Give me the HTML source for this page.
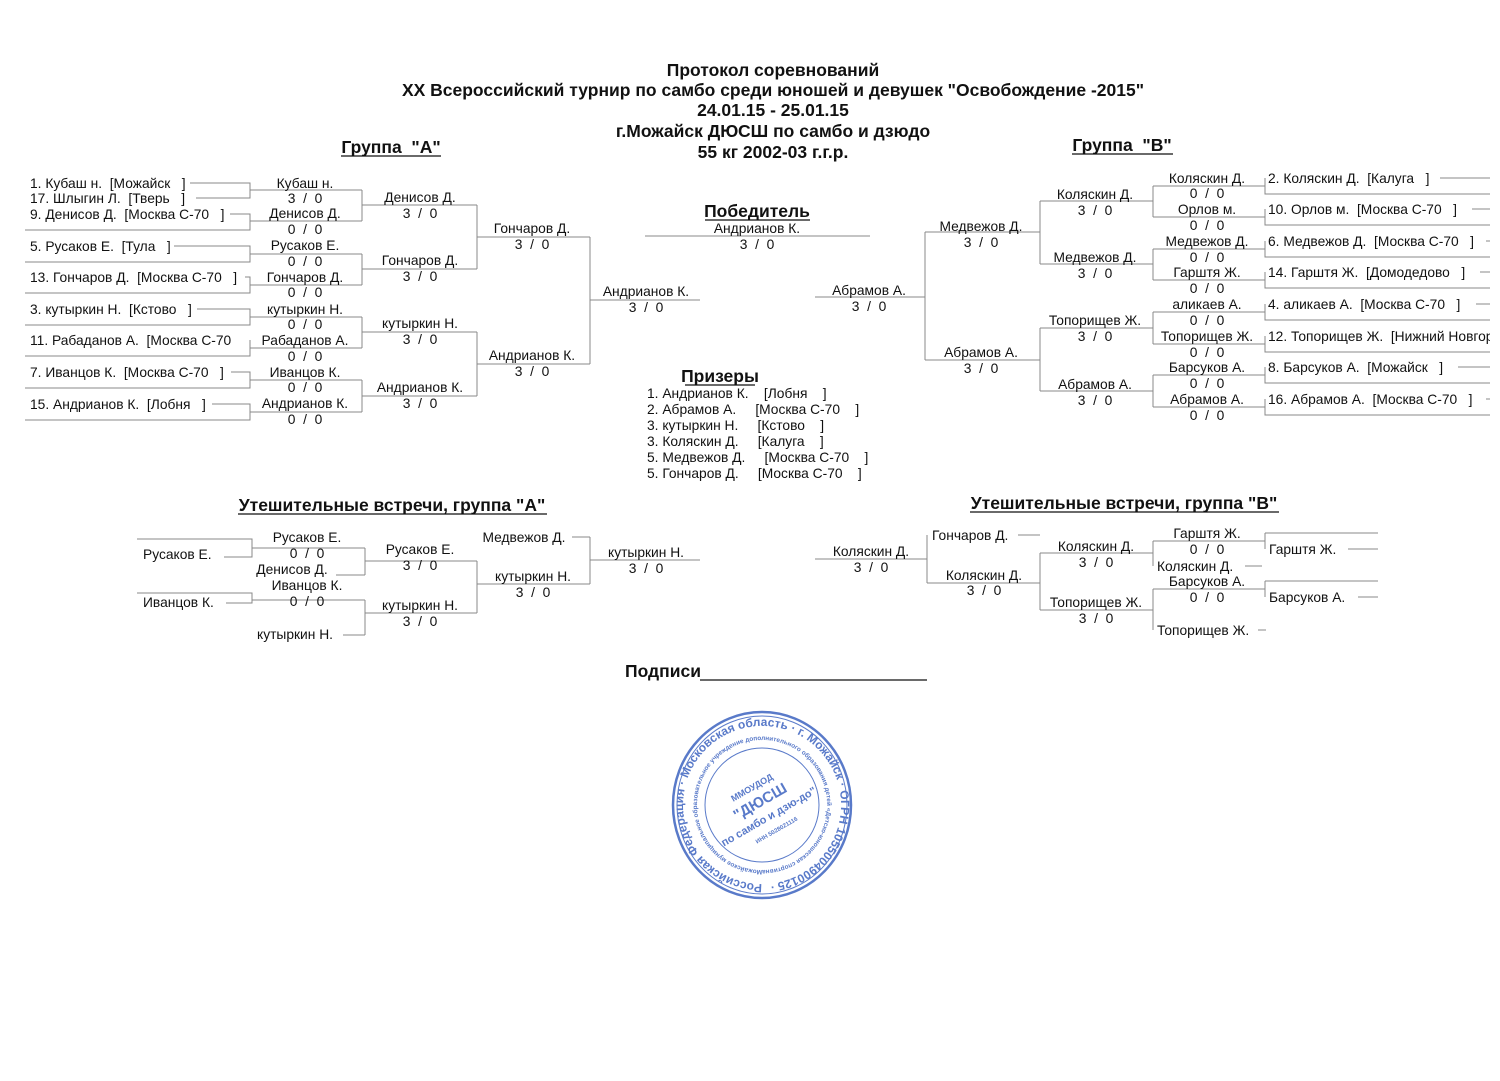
<!DOCTYPE html>
<html><head><meta charset="utf-8"><style>
html,body{margin:0;padding:0;background:#fff;}
svg{display:block;}
text{font-family:"Liberation Sans",Arial,sans-serif;font-size:13.8px;fill:#111;white-space:pre;}
.c{text-anchor:middle;}
.b{font-weight:bold;font-size:17.5px;}
text.st{fill:#3d63c0;font-family:"Liberation Sans",sans-serif;font-weight:bold;white-space:normal;}
</style></head><body>
<svg width="1500" height="1081" viewBox="0 0 1500 1081" xmlns="http://www.w3.org/2000/svg" xml:space="preserve">
<defs><clipPath id="cr"><rect x="0" y="0" width="1490" height="1081"/></clipPath>
<path id="outer" d="M762,884 A79,79 0 1,1 762.1,884"/>
<path id="inner" d="M762,870 A65,65 0 1,1 762.1,870"/>
</defs>
<g>
<text class="c b" x="773" y="76">Протокол соревнований</text>
<text class="c b" x="773" y="96">XX Всероссийский турнир по самбо среди юношей и девушек "Освобождение -2015"</text>
<text class="c b" x="773" y="116">24.01.15 - 25.01.15</text>
<text class="c b" x="773" y="137">г.Можайск ДЮСШ по самбо и дзюдо</text>
<text class="c b" x="773" y="158">55 кг 2002-03 г.г.р.</text>
<text class="c b" x="391" y="153">Группа  "А"</text>
<text class="c b" x="1122" y="151">Группа  "В"</text>
<text class="c b" x="757" y="217">Победитель</text>
<text class="c b" x="720" y="382">Призеры</text>
<text class="c b" x="392" y="511">Утешительные встречи, группа "А"</text>
<text class="c b" x="1124" y="509">Утешительные встречи, группа "В"</text>
<text class="b" x="625" y="677">Подписи</text>
</g>
<g stroke="#111" stroke-width="1.3">
<line x1="341" y1="156" x2="441" y2="156"/><line x1="1072" y1="154" x2="1173" y2="154"/>
<line x1="705" y1="220" x2="810" y2="220"/><line x1="685" y1="385" x2="755" y2="385"/>
<line x1="238" y1="514" x2="547" y2="514"/><line x1="970" y1="512" x2="1279" y2="512"/>
<line x1="700" y1="680" x2="927" y2="680"/>
</g>
<g stroke="#888" stroke-width="1" fill="none">
<polyline points="190,183 250,183 250,198 196,198"/>
<polyline points="230,214 250,214 250,230 25,230"/>
<polyline points="174,246 250,246 250,262 25,262"/>
<polyline points="245,277 250,277 250,293 25,293"/>
<polyline points="197,309 250,309 250,325 25,325"/>
<polyline points="250,340 250,356 25,356"/>
<polyline points="231,372 250,372 250,388 25,388"/>
<polyline points="212,404 250,404 250,420 25,420"/>
<line x1="250" y1="190" x2="362" y2="190"/><line x1="250" y1="221" x2="362" y2="221"/>
<line x1="250" y1="254" x2="362" y2="254"/><line x1="250" y1="285" x2="362" y2="285"/>
<line x1="250" y1="317" x2="362" y2="317"/><line x1="250" y1="348" x2="362" y2="348"/>
<line x1="250" y1="380" x2="362" y2="380"/><line x1="250" y1="412" x2="362" y2="412"/>
<line x1="362" y1="190" x2="362" y2="221"/><line x1="362" y1="254" x2="362" y2="285"/>
<line x1="362" y1="317" x2="362" y2="348"/><line x1="362" y1="380" x2="362" y2="412"/>
<line x1="362" y1="205" x2="477" y2="205"/><line x1="362" y1="269" x2="477" y2="269"/>
<line x1="362" y1="332" x2="477" y2="332"/><line x1="362" y1="396" x2="477" y2="396"/>
<line x1="477" y1="205" x2="477" y2="269"/><line x1="477" y1="332" x2="477" y2="396"/>
<line x1="477" y1="237" x2="590" y2="237"/><line x1="477" y1="364" x2="590" y2="364"/>
<line x1="590" y1="237" x2="590" y2="364"/>
<line x1="590" y1="300" x2="700" y2="300"/>
<line x1="645" y1="236" x2="870" y2="236"/>
<polyline points="1440,178 1490,178"/><polyline points="1265,178 1265,194 1490,194"/>
<polyline points="1472,209 1490,209"/><polyline points="1265,209 1265,225 1490,225"/>
<polyline points="1486,241 1490,241"/><polyline points="1265,241 1265,257 1490,257"/>
<polyline points="1480,272 1490,272"/><polyline points="1265,272 1265,288 1490,288"/>
<polyline points="1476,304 1490,304"/><polyline points="1265,304 1265,320 1490,320"/>
<polyline points="1265,336 1265,352 1490,352"/>
<polyline points="1458,367 1490,367"/><polyline points="1265,367 1265,383 1490,383"/>
<polyline points="1486,399 1490,399"/><polyline points="1265,399 1265,415 1490,415"/>
<line x1="1153" y1="186" x2="1265" y2="186"/><line x1="1153" y1="217" x2="1265" y2="217"/>
<line x1="1153" y1="249" x2="1265" y2="249"/><line x1="1153" y1="280" x2="1265" y2="280"/>
<line x1="1153" y1="312" x2="1265" y2="312"/><line x1="1153" y1="344" x2="1265" y2="344"/>
<line x1="1153" y1="375" x2="1265" y2="375"/><line x1="1153" y1="407" x2="1265" y2="407"/>
<line x1="1153" y1="186" x2="1153" y2="217"/><line x1="1153" y1="249" x2="1153" y2="280"/>
<line x1="1153" y1="312" x2="1153" y2="344"/><line x1="1153" y1="375" x2="1153" y2="407"/>
<line x1="1040" y1="201" x2="1153" y2="201"/><line x1="1040" y1="264" x2="1153" y2="264"/>
<line x1="1040" y1="328" x2="1153" y2="328"/><line x1="1040" y1="391" x2="1153" y2="391"/>
<line x1="1040" y1="201" x2="1040" y2="264"/><line x1="1040" y1="328" x2="1040" y2="391"/>
<line x1="925" y1="232" x2="1040" y2="232"/><line x1="925" y1="360" x2="1040" y2="360"/>
<line x1="925" y1="232" x2="925" y2="360"/>
<line x1="815" y1="297" x2="925" y2="297"/>
<polyline points="137,539 252,539 252,557 224,557"/>
<polyline points="137,593 252,593 252,603 226,603"/>
<line x1="252" y1="548" x2="365" y2="548"/><line x1="336" y1="575" x2="365" y2="575"/>
<line x1="365" y1="548" x2="365" y2="575"/>
<line x1="252" y1="600" x2="365" y2="600"/><line x1="343" y1="635" x2="365" y2="635"/>
<line x1="365" y1="600" x2="365" y2="635"/>
<line x1="365" y1="561" x2="477" y2="561"/><line x1="365" y1="613" x2="477" y2="613"/>
<line x1="477" y1="561" x2="477" y2="613"/>
<line x1="477" y1="584" x2="590" y2="584"/><line x1="572" y1="537" x2="590" y2="537"/>
<line x1="590" y1="537" x2="590" y2="584"/>
<line x1="590" y1="560" x2="700" y2="560"/>
<line x1="815" y1="559" x2="927" y2="559"/>
<line x1="927" y1="535" x2="927" y2="583"/>
<line x1="1018" y1="535" x2="1040" y2="535"/>
<line x1="927" y1="583" x2="1040" y2="583"/>
<line x1="1040" y1="553" x2="1040" y2="610"/>
<line x1="1040" y1="553" x2="1153" y2="553"/><line x1="1040" y1="610" x2="1153" y2="610"/>
<line x1="1153" y1="541" x2="1153" y2="566"/><line x1="1153" y1="589" x2="1153" y2="630"/>
<line x1="1153" y1="541" x2="1265" y2="541"/><line x1="1245" y1="566" x2="1262" y2="566"/>
<line x1="1153" y1="589" x2="1265" y2="589"/><line x1="1258" y1="630" x2="1266" y2="630"/>
<line x1="1265" y1="533" x2="1265" y2="549"/><line x1="1265" y1="581" x2="1265" y2="597"/>
<line x1="1265" y1="533" x2="1378" y2="533"/><line x1="1348" y1="549" x2="1378" y2="549"/>
<line x1="1265" y1="581" x2="1378" y2="581"/><line x1="1358" y1="597" x2="1378" y2="597"/>
</g>
<g>
<text x="30" y="188">1. Кубаш н.  [Можайск   ]</text>
<text x="30" y="203">17. Шлыгин Л.  [Тверь   ]</text>
<text x="30" y="219">9. Денисов Д.  [Москва С-70   ]</text>
<text x="30" y="251">5. Русаков Е.  [Тула   ]</text>
<text x="30" y="282">13. Гончаров Д.  [Москва С-70   ]</text>
<text x="30" y="314">3. кутыркин Н.  [Кстово   ]</text>
<text x="30" y="345">11. Рабаданов А.  [Москва С-70</text>
<text x="30" y="377">7. Иванцов К.  [Москва С-70   ]</text>
<text x="30" y="409">15. Андрианов К.  [Лобня   ]</text>
</g>
<g>
<text class="c" x="305" y="188">Кубаш н.</text><text class="c" x="305" y="203">3  /  0</text>
<text class="c" x="305" y="218">Денисов Д.</text><text class="c" x="305" y="234">0  /  0</text>
<text class="c" x="305" y="250">Русаков Е.</text><text class="c" x="305" y="266">0  /  0</text>
<text class="c" x="305" y="282">Гончаров Д.</text><text class="c" x="305" y="297">0  /  0</text>
<text class="c" x="305" y="314">кутыркин Н.</text><text class="c" x="305" y="329">0  /  0</text>
<text class="c" x="305" y="345">Рабаданов А.</text><text class="c" x="305" y="361">0  /  0</text>
<text class="c" x="305" y="377">Иванцов К.</text><text class="c" x="305" y="392">0  /  0</text>
<text class="c" x="305" y="408">Андрианов К.</text><text class="c" x="305" y="424">0  /  0</text>
<text class="c" x="420" y="202">Денисов Д.</text><text class="c" x="420" y="218">3  /  0</text>
<text class="c" x="420" y="265">Гончаров Д.</text><text class="c" x="420" y="281">3  /  0</text>
<text class="c" x="420" y="328">кутыркин Н.</text><text class="c" x="420" y="344">3  /  0</text>
<text class="c" x="420" y="392">Андрианов К.</text><text class="c" x="420" y="408">3  /  0</text>
<text class="c" x="532" y="233">Гончаров Д.</text><text class="c" x="532" y="249">3  /  0</text>
<text class="c" x="532" y="360">Андрианов К.</text><text class="c" x="532" y="376">3  /  0</text>
<text class="c" x="646" y="296">Андрианов К.</text><text class="c" x="646" y="312">3  /  0</text>
<text class="c" x="757" y="233">Андрианов К.</text><text class="c" x="757" y="249">3  /  0</text>
<text class="c" x="869" y="295">Абрамов А.</text><text class="c" x="869" y="311">3  /  0</text>
<text class="c" x="981" y="231">Медвежов Д.</text><text class="c" x="981" y="247">3  /  0</text>
<text class="c" x="981" y="357">Абрамов А.</text><text class="c" x="981" y="373">3  /  0</text>
<text class="c" x="1095" y="199">Коляскин Д.</text><text class="c" x="1095" y="215">3  /  0</text>
<text class="c" x="1095" y="262">Медвежов Д.</text><text class="c" x="1095" y="278">3  /  0</text>
<text class="c" x="1095" y="325">Топорищев Ж.</text><text class="c" x="1095" y="341">3  /  0</text>
<text class="c" x="1095" y="389">Абрамов А.</text><text class="c" x="1095" y="405">3  /  0</text>
<text class="c" x="1207" y="183">Коляскин Д.</text><text class="c" x="1207" y="198">0  /  0</text>
<text class="c" x="1207" y="214">Орлов м.</text><text class="c" x="1207" y="230">0  /  0</text>
<text class="c" x="1207" y="246">Медвежов Д.</text><text class="c" x="1207" y="262">0  /  0</text>
<text class="c" x="1207" y="277">Гарштя Ж.</text><text class="c" x="1207" y="293">0  /  0</text>
<text class="c" x="1207" y="309">аликаев А.</text><text class="c" x="1207" y="325">0  /  0</text>
<text class="c" x="1207" y="341">Топорищев Ж.</text><text class="c" x="1207" y="357">0  /  0</text>
<text class="c" x="1207" y="372">Барсуков А.</text><text class="c" x="1207" y="388">0  /  0</text>
<text class="c" x="1207" y="404">Абрамов А.</text><text class="c" x="1207" y="420">0  /  0</text>
</g>
<g clip-path="url(#cr)">
<text x="1268" y="183">2. Коляскин Д.  [Калуга   ]</text>
<text x="1268" y="214">10. Орлов м.  [Москва С-70   ]</text>
<text x="1268" y="246">6. Медвежов Д.  [Москва С-70   ]</text>
<text x="1268" y="277">14. Гарштя Ж.  [Домодедово   ]</text>
<text x="1268" y="309">4. аликаев А.  [Москва С-70   ]</text>
<text x="1268" y="341">12. Топорищев Ж.  [Нижний Новгород</text>
<text x="1268" y="372">8. Барсуков А.  [Можайск   ]</text>
<text x="1268" y="404">16. Абрамов А.  [Москва С-70   ]</text>
</g>
<g>
<text x="647" y="398">1. Андрианов К.    [Лобня    ]</text>
<text x="647" y="414">2. Абрамов А.     [Москва С-70    ]</text>
<text x="647" y="430">3. кутыркин Н.     [Кстово    ]</text>
<text x="647" y="446">3. Коляскин Д.     [Калуга    ]</text>
<text x="647" y="462">5. Медвежов Д.     [Москва С-70    ]</text>
<text x="647" y="478">5. Гончаров Д.     [Москва С-70    ]</text>
</g>
<g>
<text x="143" y="559">Русаков Е.</text>
<text x="143" y="607">Иванцов К.</text>
<text class="c" x="307" y="542">Русаков Е.</text><text class="c" x="307" y="558">0  /  0</text>
<text class="c" x="292" y="574">Денисов Д.</text>
<text class="c" x="307" y="590">Иванцов К.</text><text class="c" x="307" y="606">0  /  0</text>
<text class="c" x="295" y="639">кутыркин Н.</text>
<text class="c" x="420" y="554">Русаков Е.</text><text class="c" x="420" y="570">3  /  0</text>
<text class="c" x="420" y="610">кутыркин Н.</text><text class="c" x="420" y="626">3  /  0</text>
<text class="c" x="524" y="542">Медвежов Д.</text>
<text class="c" x="533" y="581">кутыркин Н.</text><text class="c" x="533" y="597">3  /  0</text>
<text class="c" x="646" y="557">кутыркин Н.</text><text class="c" x="646" y="573">3  /  0</text>
<text class="c" x="871" y="556">Коляскин Д.</text><text class="c" x="871" y="572">3  /  0</text>
<text x="932" y="540">Гончаров Д.</text>
<text class="c" x="984" y="580">Коляскин Д.</text><text class="c" x="984" y="595">3  /  0</text>
<text class="c" x="1096" y="551">Коляскин Д.</text><text class="c" x="1096" y="567">3  /  0</text>
<text class="c" x="1096" y="607">Топорищев Ж.</text><text class="c" x="1096" y="623">3  /  0</text>
<text class="c" x="1207" y="538">Гарштя Ж.</text><text class="c" x="1207" y="554">0  /  0</text>
<text x="1157" y="571">Коляскин Д.</text>
<text class="c" x="1207" y="586">Барсуков А.</text><text class="c" x="1207" y="602">0  /  0</text>
<text x="1157" y="635">Топорищев Ж.</text>
<text x="1269" y="554">Гарштя Ж.</text>
<text x="1269" y="602">Барсуков А.</text>
</g>
<g opacity="0.85">
<ellipse cx="762" cy="805" rx="89" ry="93" fill="none" stroke="#3d63c0" stroke-width="2.5"/>
<ellipse cx="762" cy="805" rx="85" ry="89" fill="none" stroke="#3d63c0" stroke-width="1"/>
<circle cx="762" cy="805" r="57" fill="none" stroke="#3d63c0" stroke-width="1"/>
<text class="st" style="font-size:12px"><textPath href="#outer">Российская Федерация · Московская область · г. Можайск · ОГРН 1055004900125 ·</textPath></text>
<text class="st" style="font-size:6.4px"><textPath href="#inner">Можайское муниципальное образовательное учреждение дополнительного образования детей «Детско-юношеская спортивная школа по самбо и дзю-до»</textPath></text>
<g transform="rotate(-30 762 805)">
<text class="st c" x="762" y="788" style="font-size:9px">ММОУДОД</text>
<text class="st c" x="762" y="806" style="font-size:15px">"ДЮСШ</text>
<text class="st c" x="762" y="822" style="font-size:11px">по самбо и дзю-до"</text>
<text class="st c" x="762" y="836" style="font-size:6px">ИНН 5028021116</text>
</g>
</g>
</svg>
</body></html>
